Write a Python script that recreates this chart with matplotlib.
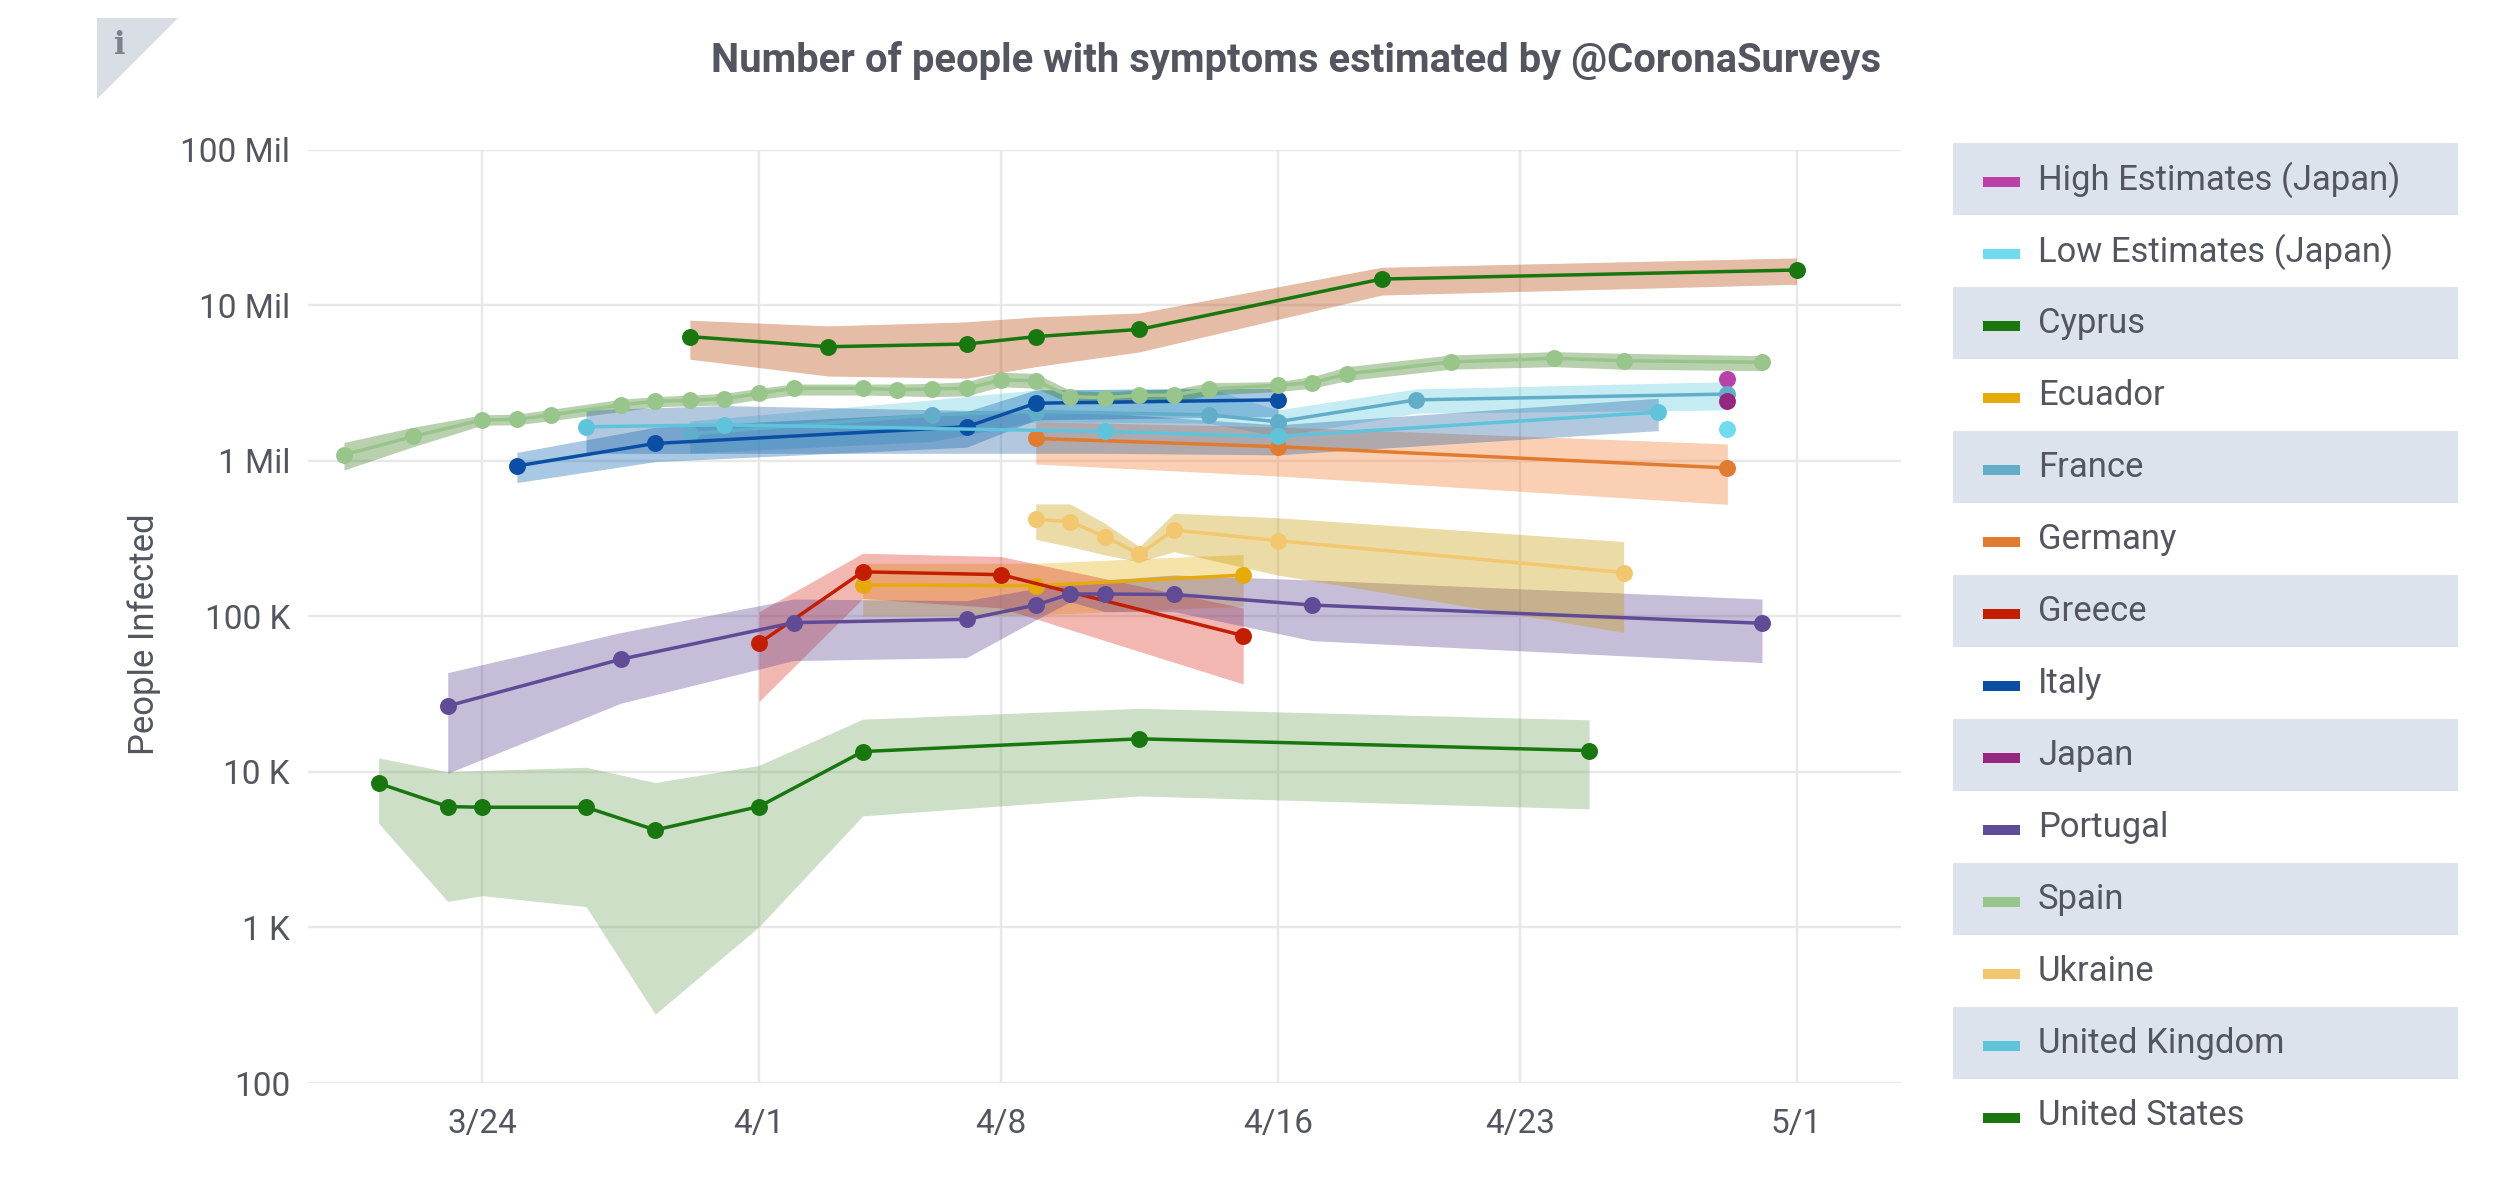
import pandas as pd
import matplotlib
matplotlib.use("Agg")
import matplotlib.pyplot as plt
import matplotlib.dates as mdates
from matplotlib.patches import Polygon, Rectangle

plt.rcParams["font.family"] = ["Roboto", "DejaVu Sans"]

W, H = 2520, 1194
TEXT = "#53565e"

# estimates, people infected
high_japan_dates = ["4/29"]
high_japan_vals = [3370000]
low_japan_dates = ["4/29"]
low_japan_vals = [1590000]
japan_dates = ["4/29"]
japan_vals = [2430000]

cyprus_dates = ["3/21", "3/23", "3/24", "3/27", "3/29", "4/1", "4/4", "4/12", "4/25"]
cyprus_vals = [8440, 5980, 5920, 5920, 4230, 5980, 13500, 16300, 13700]
cyprus_hi = [12300, 10000, 10200, 10700, 8530, 11000, 21800, 25600, 21600]
cyprus_lo = [4670, 1470, 1600, 1360, 277, 1010, 5210, 7000, 5780]

ecuador_dates = ["4/4", "4/9", "4/15"]
ecuador_vals = [159000, 157000, 184000]
ecuador_hi = [219000, 219000, 250000]
ecuador_lo = [100000, 102000, 116000]

france_dates = ["3/30", "4/6", "4/9", "4/14", "4/16", "4/20", "4/29"]
france_vals = [1485000, 1970000, 2070000, 1970000, 1780000, 2460000, 2680000]
france_hi = [1800000, 2460000, 2850000, 2920000, 2120000, 2890000, 3220000]
france_lo = [1115000, 1330000, 1780000, 1740000, 1430000, 2020000, 2120000]

germany_dates = ["4/9", "4/16", "4/29"]
germany_vals = [1390000, 1230000, 898000]
germany_hi = [1780000, 1650000, 1280000]
germany_lo = [952000, 797000, 524000]

greece_dates = ["4/1", "4/4", "4/8", "4/15"]
greece_vals = [67000, 193000, 185000, 75100]
greece_hi = [107000, 254000, 242000, 113000]
greece_lo = [28300, 130000, 113000, 36700]

italy_dates = ["3/25", "3/29", "4/7", "4/9", "4/16"]
italy_vals = [925000, 1290000, 1650000, 2340000, 2460000]
italy_hi = [1130000, 1640000, 2070000, 2850000, 2920000]
italy_lo = [723000, 986000, 1220000, 1830000, 1920000]

portugal_dates = ["3/23", "3/28", "4/2", "4/7", "4/9", "4/10", "4/11", "4/13", "4/17", "4/30"]
portugal_vals = [26500, 52900, 91000, 95600, 118000, 139000, 139000, 138000, 118000, 90100]
portugal_hi = [43400, 78500, 129000, 126000, 151000, 163000, 171000, 184000, 171000, 129000]
portugal_lo = [9790, 27600, 51900, 54200, 94700, 124000, 107000, 107000, 69700, 50400]

spain_dates = ["3/20", "3/22", "3/24", "3/25", "3/26", "3/28", "3/29", "3/30", "3/31", "4/1",
               "4/2", "4/4", "4/5", "4/6", "4/7", "4/8", "4/9", "4/10", "4/11", "4/12",
               "4/13", "4/14", "4/16", "4/17", "4/18", "4/21", "4/24", "4/26", "4/30"]
spain_vals = [1090000, 1430000, 1830000, 1840000, 1970000, 2280000, 2410000, 2440000, 2500000, 2710000,
              2920000, 2920000, 2860000, 2890000, 2920000, 3300000, 3270000, 2580000, 2540000, 2630000,
              2640000, 2890000, 3050000, 3170000, 3610000, 4310000, 4550000, 4390000, 4290000]
spain_hi = [1310000, 1640000, 1970000, 1990000, 2140000, 2480000, 2580000, 2640000, 2710000, 2920000,
            3110000, 3110000, 3110000, 3140000, 3220000, 3700000, 3640000, 2820000, 2760000, 2850000,
            2880000, 3170000, 3220000, 3470000, 4020000, 4780000, 5020000, 4900000, 4730000]
spain_lo = [871000, 1230000, 1690000, 1700000, 1810000, 2070000, 2220000, 2250000, 2280000, 2480000,
            2640000, 2640000, 2610000, 2580000, 2610000, 2990000, 2920000, 2340000, 2310000, 2360000,
            2360000, 2640000, 2780000, 2920000, 3270000, 3870000, 4020000, 3870000, 3790000]

ukraine_dates = ["4/9", "4/10", "4/11", "4/12", "4/13", "4/16", "4/26"]
ukraine_vals = [420000, 406000, 325000, 251000, 359000, 306000, 191000]
ukraine_hi = [527000, 527000, 396000, 280000, 459000, 430000, 302000]
ukraine_lo = [312000, 280000, 248000, 224000, 260000, 184000, 78900]

uk_dates = ["3/27", "3/31", "4/11", "4/16", "4/27"]
uk_vals = [1650000, 1700000, 1540000, 1430000, 2050000]
uk_hi = [2120000, 2260000, 2020000, 1700000, 2520000]
uk_lo = [1115000, 1115000, 1115000, 1090000, 1560000]

us_dates = ["3/30", "4/3", "4/7", "4/9", "4/12", "4/19", "5/1"]
us_vals = [6270000, 5400000, 5620000, 6270000, 6980000, 14700000, 16800000]
us_hi = [8000000, 7350000, 7800000, 8400000, 8900000, 17500000, 20100000]
us_lo = [4490000, 3500000, 3390000, 4020000, 5000000, 11600000, 13600000]

# name, dates, values, high, low, line colour, band colour
series = [
    ("High Estimates (Japan)", high_japan_dates, high_japan_vals, None, None, "#bb40a8", None),
    ("Low Estimates (Japan)", low_japan_dates, low_japan_vals, None, None, "#6edcee", None),
    ("Cyprus", cyprus_dates, cyprus_vals, cyprus_hi, cyprus_lo, "#18770e", "#70a65c"),
    ("Ecuador", ecuador_dates, ecuador_vals, ecuador_hi, ecuador_lo, "#e6ab0a", "#e5af0c"),
    ("France", france_dates, france_vals, france_hi, france_lo, "#62aec8", "#59c9da"),
    ("Germany", germany_dates, germany_vals, germany_hi, germany_lo, "#e07b30", "#f47626"),
    ("Greece", greece_dates, greece_vals, greece_hi, greece_lo, "#c41e00", "#dd3123"),
    ("Italy", italy_dates, italy_vals, italy_hi, italy_lo, "#0a4fa3", "#0662b2"),
    ("Japan", japan_dates, japan_vals, None, None, "#96277f", None),
    ("Portugal", portugal_dates, portugal_vals, portugal_hi, portugal_lo, "#5f4b96", "#5c4292"),
    ("Spain", spain_dates, spain_vals, spain_hi, spain_lo, "#98c58a", "#37791a"),
    ("Ukraine", ukraine_dates, ukraine_vals, ukraine_hi, ukraine_lo, "#f2c76e", "#c69800"),
    ("United Kingdom", uk_dates, uk_vals, uk_hi, uk_lo, "#5ec4dc", "#2362a6"),
    ("United States", us_dates, us_vals, us_hi, us_lo, "#18770e", "#b54000"),
]

y_ticks = [100, 1000, 10000, 100000, 1000000, 10000000, 100000000]
y_labels = ["100", "1 K", "10 K", "100 K", "1 Mil", "10 Mil", "100 Mil"]
x_ticks = ["3/24", "4/1", "4/8", "4/16", "4/23", "5/1"]


def to_dates(labels):
    return pd.to_datetime([d + "/2020" for d in labels], format="%m/%d/%Y")


fig = plt.figure(figsize=(W / 100, H / 100), dpi=100, facecolor="white")

# plot area in pixels: x 308-1901, y 149.5-1083
ax = fig.add_axes([308 / W, 1 - 1083 / H, (1901 - 308) / W, (1083 - 149.5) / H])
ax.set_yscale("log")
ax.set_ylim(100, 100000000)
first = mdates.date2num(pd.Timestamp("2020-03-24"))
ax.set_xlim(first - 5.04, first + 41.02)

for name, dates, vals, hi, lo, color, band in series:
    xs = to_dates(dates)
    if hi is not None:
        ax.fill_between(xs, lo, hi, color=band, alpha=0.35, lw=0, zorder=3)
    ax.plot(xs, vals, color=color, lw=2.5, marker="o", ms=12.2, mew=0, zorder=4)

ax.set_yticks(y_ticks)
ax.set_yticklabels(y_labels)
ax.minorticks_off()
ax.set_xticks(to_dates(x_ticks))
ax.set_xticklabels(x_ticks)
ax.tick_params(axis="both", length=0, labelsize=24, labelcolor=TEXT)
ax.tick_params(axis="x", pad=18)
ax.tick_params(axis="y", pad=13)
ax.grid(True, color="#e8e8e8", lw=1.7)
ax.set_axisbelow(True)
for side in ax.spines:
    ax.spines[side].set_visible(False)
ax.patch.set_alpha(0)

# overlay in pixel coordinates for the title, info corner and legend
over = fig.add_axes([0, 0, 1, 1], zorder=5)
over.set_xlim(0, W)
over.set_ylim(H, 0)
over.axis("off")
over.patch.set_alpha(0)

over.text(1296, 60, "Number of people with symptoms estimated by @CoronaSurveys",
          ha="center", va="center", fontsize=28.8, fontweight="bold", color=TEXT)
over.text(144, 634, "People Infected", rotation=90, ha="center", va="center",
          fontsize=25, color=TEXT)

over.add_patch(Polygon([(97, 18), (178, 18), (97, 99)], closed=True, fc="#d9dee5", ec="none"))
over.text(120, 45, "i", ha="center", va="center", fontsize=22, fontweight="bold",
          family="DejaVu Serif", color="#7d818a")

row_h = 72
for i, s in enumerate(series):
    top = 142.7 + i * row_h
    if i % 2 == 0:
        over.add_patch(Rectangle((1953, top), 504.5, row_h, fc="#dde3ed", ec="none"))
    over.add_patch(Rectangle((1983, top + 34), 36.5, 10, fc=s[5], ec="none"))
    over.text(2038, top + 37, s[0], ha="left", va="center", fontsize=24.9, color=TEXT)

fig.savefig("out.png", dpi=100)
